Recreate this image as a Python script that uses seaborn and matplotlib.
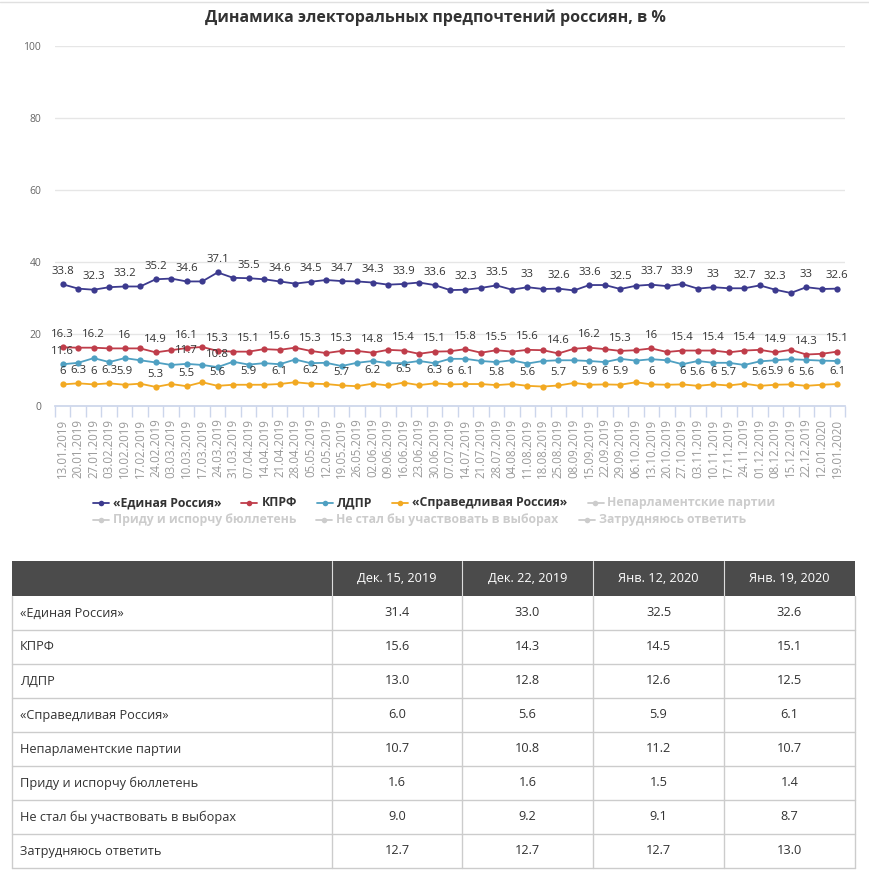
import matplotlib
matplotlib.use("Agg")
import matplotlib.pyplot as plt
from matplotlib.lines import Line2D
from matplotlib.patches import Rectangle
import pandas as pd
import seaborn as sns

# ---- data ----
dates = ['13.01.2019', '20.01.2019', '27.01.2019', '03.02.2019', '10.02.2019', '17.02.2019',
         '24.02.2019', '03.03.2019', '10.03.2019', '17.03.2019', '24.03.2019', '31.03.2019',
         '07.04.2019', '14.04.2019', '21.04.2019', '28.04.2019', '05.05.2019', '12.05.2019',
         '19.05.2019', '26.05.2019', '02.06.2019', '09.06.2019', '16.06.2019', '23.06.2019',
         '30.06.2019', '07.07.2019', '14.07.2019', '21.07.2019', '28.07.2019', '04.08.2019',
         '11.08.2019', '18.08.2019', '25.08.2019', '08.09.2019', '15.09.2019', '22.09.2019',
         '29.09.2019', '06.10.2019', '13.10.2019', '20.10.2019', '27.10.2019', '03.11.2019',
         '10.11.2019', '17.11.2019', '24.11.2019', '01.12.2019', '08.12.2019', '15.12.2019',
         '22.12.2019', '12.01.2020', '19.01.2020']

united_russia = [33.8, 32.6, 32.3, 33.0, 33.2, 33.2, 35.2, 35.4, 34.6, 34.6,
                 37.1, 35.6, 35.5, 35.2, 34.6, 34.0, 34.5, 35.0, 34.7, 34.6,
                 34.3, 33.7, 33.9, 34.3, 33.6, 32.2, 32.3, 32.8, 33.5, 32.3,
                 33.0, 32.5, 32.6, 32.1, 33.6, 33.6, 32.5, 33.4, 33.7, 33.3,
                 33.9, 32.6, 33.0, 32.7, 32.7, 33.5, 32.3, 31.4, 33.0, 32.5, 32.6]
kprf = [16.3, 16.2, 16.2, 16.0, 16.0, 16.0, 14.9, 15.5, 16.1, 16.4,
        15.3, 15.1, 15.1, 15.8, 15.6, 16.2, 15.3, 14.7, 15.3, 15.3,
        14.8, 15.6, 15.4, 14.5, 15.1, 15.2, 15.8, 14.8, 15.5, 15.1,
        15.6, 15.5, 14.6, 15.9, 16.2, 15.8, 15.3, 15.5, 16.0, 15.0,
        15.4, 15.4, 15.4, 14.9, 15.4, 15.6, 14.9, 15.6, 14.3, 14.5, 15.1]
ldpr = [11.6, 12.0, 13.3, 12.2, 13.3, 12.7, 12.1, 11.4, 11.7, 11.4,
        10.8, 12.3, 11.5, 11.9, 11.6, 12.9, 11.9, 12.0, 11.1, 12.0,
        12.5, 11.9, 11.9, 12.5, 11.9, 13.1, 13.1, 12.5, 12.2, 12.7,
        11.8, 12.5, 12.7, 12.7, 12.5, 12.2, 13.1, 12.6, 13.0, 12.7,
        11.6, 12.5, 12.0, 12.0, 11.4, 12.4, 12.7, 13.0, 12.8, 12.6, 12.5]
fair_russia = [6.0, 6.3, 6.0, 6.3, 5.9, 6.2, 5.3, 6.1, 5.5, 6.6,
               5.6, 5.9, 5.9, 5.9, 6.1, 6.6, 6.2, 6.1, 5.7, 5.5,
               6.2, 5.7, 6.5, 5.8, 6.3, 6.0, 6.1, 6.1, 5.8, 6.1,
               5.6, 5.4, 5.7, 6.4, 5.9, 6.0, 5.9, 6.6, 6.0, 5.9,
               6.0, 5.6, 6.0, 5.7, 6.2, 5.6, 5.9, 6.0, 5.6, 5.9, 6.1]

# which points carry a visible value label (the web chart hides overlapping ones)
united_russia_labeled = list(range(0, 51, 2))
kprf_labeled = list(range(0, 51, 2))
ldpr_labeled = [0, 8, 10]
fair_russia_labeled = [0, 1, 2, 3, 4, 6, 8, 10, 12, 14, 16, 18, 20, 22, 24, 25, 26, 28, 30,
                       32, 34, 35, 36, 38, 40, 41, 42, 43, 45, 46, 47, 48, 50]

party_names = ['«Единая Россия»', 'КПРФ', 'ЛДПР', '«Справедливая Россия»']
hidden_names = ['Непарламентские партии', 'Приду и испорчу бюллетень',
                'Не стал бы участвовать в выборах', 'Затрудняюсь ответить']
party_colors = ['#3c3a8e', '#bf3d4a', '#4fa0c2', '#f2a922']

table_header = ['Дек. 15, 2019', 'Дек. 22, 2019', 'Янв. 12, 2020', 'Янв. 19, 2020']
table_values = [
    [31.4, 33.0, 32.5, 32.6],
    [15.6, 14.3, 14.5, 15.1],
    [13.0, 12.8, 12.6, 12.5],
    [6.0, 5.6, 5.9, 6.1],
    [10.7, 10.8, 11.2, 10.7],
    [1.6, 1.6, 1.5, 1.4],
    [9.0, 9.2, 9.1, 8.7],
    [12.7, 12.7, 12.7, 13.0],
]

# ---- figure ----
sns.set_theme(style='white')
plt.rcParams['font.family'] = ['Open Sans', 'DejaVu Sans']

W, H = 870, 873
fig = plt.figure(figsize=(W / 100, H / 100), dpi=100)


def px_rect(x0, y0, x1, y1):
    """pixel box (top-left origin) -> figure fraction rect"""
    return [x0 / W, 1 - y1 / H, (x1 - x0) / W, (y1 - y0) / H]


fig.add_artist(Line2D([0, 1], [1 - 1.5 / H] * 2, color='#e0e0e0', lw=1))
fig.text(435 / W, 1 - 18 / H, 'Динамика электоральных предпочтений россиян, в %',
         ha='center', va='center', fontsize=11.5, fontweight='bold', color='#333333')

ax = fig.add_axes(px_rect(55, 46, 845, 406))
long_df = pd.DataFrame({
    'idx': list(range(len(dates))) * 4,
    'value': united_russia + kprf + ldpr + fair_russia,
    'party': [p for p in party_names for _ in dates],
})
sns.lineplot(data=long_df, x='idx', y='value', hue='party', hue_order=party_names,
             palette=party_colors, marker='o', markersize=4.5, markeredgewidth=0,
             linewidth=1.3, legend=False, ax=ax)

ax.set_xlim(-0.5, len(dates) - 0.5)
ax.set_ylim(0, 100)
ax.set_yticks(range(0, 101, 20))
ax.set_yticklabels([str(v) for v in range(0, 101, 20)], fontsize=7.5, color='#666666')
ax.tick_params(axis='y', length=0, pad=10)
ax.set_xticks(range(len(dates)))
ax.set_xticklabels(dates, rotation=90, fontsize=8.3, color='#9a9a9a')
ax.set_xticks([i - 0.5 for i in range(len(dates) + 1)], minor=True)
ax.tick_params(axis='x', which='major', length=0, pad=9)
ax.tick_params(axis='x', which='minor', length=8, width=1, color='#ccd6eb', bottom=True)
ax.grid(axis='y', color='#e6e6e6', lw=1)
for s in ['top', 'right', 'left']:
    ax.spines[s].set_visible(False)
ax.spines['bottom'].set_color('#ccd6eb')
ax.set_xlabel('')
ax.set_ylabel('')

# value labels
for values, shown in [(united_russia, united_russia_labeled), (kprf, kprf_labeled),
                      (ldpr, ldpr_labeled), (fair_russia, fair_russia_labeled)]:
    for i in shown:
        ax.annotate(f'{values[i]:g}', (i, values[i]), xytext=(0, 9.3),
                    textcoords='offset points', ha='center', va='center',
                    fontsize=8.2, color='#333333')

fig.canvas.draw()
renderer = fig.canvas.get_renderer()

# legend, laid out like the web chart
legend_rows = [(503, party_names + hidden_names[:1]), (520, hidden_names[1:])]
for y, names in legend_rows:
    x = 93
    for name in names:
        active = name in party_names
        color = party_colors[party_names.index(name)] if active else '#cccccc'
        fy = 1 - y / H
        fig.add_artist(Line2D([x / W, (x + 16) / W], [fy, fy], color=color, lw=1.3))
        fig.add_artist(Line2D([(x + 8) / W], [fy], color=color, marker='o',
                              markersize=4, markeredgewidth=0))
        t = fig.text((x + 20) / W, fy, name, ha='left', va='center', fontsize=8.8,
                     fontweight='bold', color='#333333' if active else '#cccccc')
        w = t.get_window_extent(renderer).width
        x = x + 20 + w + 20

# table
tab = fig.add_axes([0, 0, 1, 1])
tab.set_xlim(0, W)
tab.set_ylim(H, 0)
tab.axis('off')
col_edges = [12, 332, 462, 593, 724, 855]
row_top = 561
header_h = 35
row_h = 34
tab.add_patch(Rectangle((col_edges[0], row_top), col_edges[-1] - col_edges[0], header_h,
                        facecolor='#4b4b4b', edgecolor='none'))
for j, head in enumerate(table_header):
    xc = (col_edges[j + 1] + col_edges[j + 2]) / 2
    tab.text(xc, row_top + header_h / 2, head, ha='center', va='center',
             fontsize=9.2, color='white')
    tab.plot([col_edges[j + 1]] * 2, [row_top, row_top + header_h], color='#dddddd', lw=0.8)
n_rows = len(table_values)
y0 = row_top + header_h
for r, (name, vals) in enumerate(zip(party_names + hidden_names, table_values)):
    yt = y0 + r * row_h
    tab.text(col_edges[0] + 8, yt + row_h / 2, name, ha='left', va='center',
             fontsize=9.2, color='#333333')
    for j, v in enumerate(vals):
        xc = (col_edges[j + 1] + col_edges[j + 2]) / 2
        tab.text(xc, yt + row_h / 2, f'{v:.1f}', ha='center', va='center',
                 fontsize=9.2, color='#333333')
    tab.plot([col_edges[0], col_edges[-1]], [yt + row_h] * 2, color='#cccccc', lw=1)
y_end = y0 + n_rows * row_h
for xe in col_edges:
    tab.plot([xe, xe], [y0, y_end], color='#cccccc', lw=1)

fig.savefig('out.png', dpi=100)
